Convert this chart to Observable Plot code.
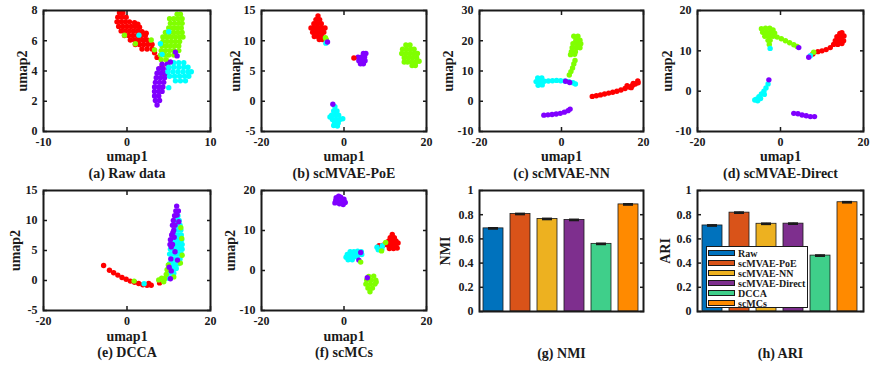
<!DOCTYPE html>
<html><head><meta charset="utf-8">
<script src="https://cdn.jsdelivr.net/npm/d3@7"></script>
<script src="https://cdn.jsdelivr.net/npm/@observablehq/plot@0.6"></script>
<style>
html,body{margin:0;padding:0;background:#fff;}
#root{position:relative;width:870px;height:368px;overflow:hidden;background:#fff;}
.cell{position:absolute;}
.cell svg{display:block;overflow:visible;max-width:none;}
#legend{position:absolute;left:706px;top:246px;width:102px;height:62px;box-sizing:border-box;border:1.5px solid #1a1a1a;background:#fff;padding:1px 0 0 1px;font-family:'Liberation Serif','Times New Roman',serif;font-weight:bold;font-size:10px;color:#1a1a1a;}
#legend .row{height:10px;display:flex;align-items:center;}
#legend .sw{width:27px;height:6px;border:1px solid #1a1a1a;margin-right:3px;box-sizing:border-box;}
</style></head>
<body><div id="root"></div>
<script>
// ---------- data ----------
// (a) Raw data
const rawRed = [[-0.9,7.85],[-0.5,7.85],[-1.1,7.55],[-0.6,7.55],[-0.1,7.55],[-1.2,7.25],[-0.7,7.25],[-0.2,7.25],[0.3,7.25],[0.9,7.2],[1.3,7.1],[-1.0,6.95],[-0.5,6.95],[0.0,6.95],[0.5,6.95],[1.0,6.95],[1.5,6.9],[-0.7,6.65],[-0.2,6.65],[0.3,6.65],[0.8,6.65],[1.3,6.65],[1.8,6.6],[2.3,6.5],[-0.3,6.35],[0.2,6.35],[0.7,6.35],[1.2,6.35],[1.7,6.35],[2.2,6.35],[0.4,6.05],[0.9,6.05],[1.4,6.05],[1.9,6.05],[2.4,6.05],[1.0,5.75],[1.5,5.75],[2.0,5.75],[2.5,5.75],[3.0,5.75],[1.8,5.45],[2.4,5.45],[3.0,5.45],[3.3,5.2],[3.6,4.9],[4.2,4.3],[4.5,3.8]];
const rawGreen = [[6.0,7.75],[6.4,7.75],[5.1,7.45],[5.6,7.45],[6.1,7.45],[6.6,7.45],[5.2,7.15],[5.7,7.15],[6.2,7.15],[6.6,7.15],[5.0,6.85],[5.5,6.85],[6.0,6.85],[6.5,6.85],[4.6,6.55],[5.1,6.55],[5.6,6.55],[6.1,6.55],[6.6,6.55],[4.3,6.25],[4.8,6.25],[5.3,6.25],[5.8,6.25],[6.3,6.25],[6.7,6.25],[4.3,5.95],[4.8,5.95],[5.3,5.95],[5.8,5.95],[6.3,5.95],[4.2,5.65],[4.7,5.65],[5.2,5.65],[5.7,5.65],[6.2,5.65],[4.1,5.35],[4.6,5.35],[5.1,5.35],[5.6,5.35],[6.2,5.35],[4.0,5.05],[4.5,5.05],[5.0,5.05],[5.6,5.05],[4.1,4.75],[4.7,4.75]];
const rawCyan = [[5.6,4.55],[6.2,4.55],[6.8,4.55],[5.0,4.25],[5.6,4.25],[6.2,4.25],[6.8,4.25],[7.3,4.25],[4.9,3.95],[5.5,3.95],[6.1,3.95],[6.7,3.95],[7.3,3.95],[7.7,3.95],[5.1,3.65],[5.7,3.65],[6.3,3.65],[6.9,3.65],[7.4,3.65],[5.8,3.35],[6.4,3.35],[7.0,3.35]];
const rawPurple = [[4.2,4.45],[4.8,4.45],[3.8,4.15],[4.3,4.15],[4.9,4.15],[3.6,3.85],[4.1,3.85],[4.6,3.85],[3.5,3.55],[4.0,3.55],[4.5,3.55],[3.4,3.25],[3.9,3.25],[4.4,3.25],[3.3,2.95],[3.8,2.95],[4.3,2.95],[3.3,2.65],[3.8,2.65],[4.2,2.65],[3.3,2.35],[3.8,2.35],[3.4,2.05],[3.9,2.05],[3.6,1.75]];
const rawGreenOut = [[-0.3,6.37],[1.0,5.8],[2.9,6.05],[3.3,5.4]];
const rawCyanOut = [[1.43,6.37],[4.0,5.8],[5.0,6.6],[5.0,2.9],[4.2,5.1]];
const rawPurpleOut = [[5.8,5.25],[5.2,4.6],[6.0,5.0]];

// (b) scMVAE-PoE
const poeRed = [[-6.3,14.1],[-6.8,13.5],[-5.9,13.5],[-7.3,12.8],[-6.4,12.8],[-5.5,12.8],[-8.0,12.1],[-7.1,12.1],[-6.2,12.1],[-5.3,12.1],[-4.6,12.1],[-7.6,11.4],[-6.7,11.4],[-5.8,11.4],[-4.9,11.4],[-7.2,10.7],[-6.3,10.7],[-5.4,10.7],[-6.0,10.2],[-5.2,10.2]];
const poeGreen = [[15.0,9.3],[16.0,9.3],[14.2,8.6],[15.2,8.6],[16.2,8.6],[17.0,8.6],[14.0,7.9],[15.0,7.9],[16.0,7.9],[17.0,7.9],[17.8,7.9],[14.6,7.2],[15.6,7.2],[16.6,7.2],[17.6,7.2],[14.6,6.5],[15.4,6.5],[16.4,6.5],[17.4,6.5],[18.2,6.6],[16.5,5.9],[17.3,5.9]];
const poePurple = [[4.7,7.9],[5.3,7.9],[3.4,7.3],[4.2,7.3],[5.0,7.3],[3.6,6.7],[4.4,6.7],[5.1,6.7],[4.0,6.2],[4.7,6.2]];
const poeCyan = [[-2.2,-0.9],[-2.5,-1.6],[-1.7,-1.6],[-3.0,-2.3],[-2.1,-2.3],[-1.3,-2.3],[-3.4,-2.6],[-2.8,-3.0],[-1.9,-3.0],[-1.0,-3.0],[-0.3,-2.9],[-2.3,-3.6],[-1.4,-3.6],[-2.5,-4.0],[-1.6,-4.1]];
const poeGreenOut = [[-4.5,10.5],[-4.3,10.2]];
const poeCyanOut = [[-4.4,9.6]];
const poePurpleOut = [[-4.0,9.8],[-2.7,-0.5]];
const poeRedOut = [[2.4,7.15]];

// (c) scMVAE-NN
const nnGreen = [[3.0,21.5],[4.0,21.5],[3.5,20.2],[4.5,20.2],[2.8,19.0],[3.8,19.0],[4.7,19.0],[2.6,17.7],[3.6,17.7],[4.5,17.7],[2.4,16.4],[3.4,16.4],[2.2,15.4],[3.2,15.5],[3.3,13.5],[3.0,12.3],[2.7,11.0],[2.3,9.8],[1.9,8.7]];
const nnCyan = [[-5.8,7.7],[-4.8,7.7],[-6.2,6.5],[-5.2,6.4],[-4.2,6.6],[-5.7,5.3],[-4.7,5.4],[-3.2,6.7],[-2.2,6.8],[-1.2,6.9],[-0.2,6.8],[0.8,6.7],[1.8,6.5],[2.8,6.1],[3.4,5.7]];
const nnPurpleOut = [[1.0,6.6],[2.0,6.2]];
const nnRed = [[7.5,1.6],[8.5,1.8],[9.5,2.1],[10.5,2.4],[11.5,2.7],[12.5,3.0],[13.5,3.3],[14.5,3.7],[15.5,4.2],[16.5,4.7],[17.3,5.2],[18.0,5.7],[18.7,6.1],[16.0,5.1],[17.5,5.9],[18.6,6.7],[17.0,4.5]];
const nnPurple = [[-4.3,-4.6],[-3.3,-4.5],[-2.3,-4.4],[-1.3,-4.2],[-0.3,-4.0],[0.7,-3.6],[1.6,-3.1],[2.1,-2.6]];

// (d) scMVAE-Direct
const dirGreen = [[-4.6,15.5],[-3.6,15.6],[-2.6,15.6],[-1.8,15.2],[-4.3,14.6],[-3.3,14.6],[-2.3,14.6],[-1.4,14.4],[-3.8,13.6],[-2.8,13.6],[-1.8,13.6],[-0.8,13.4],[-3.0,12.6],[-2.5,12.6],[-2.7,11.6],[0.2,13.0],[1.2,12.5],[2.2,12.0],[3.2,11.5],[4.0,11.1]];
const dirRed = [[7.8,9.2],[9.0,9.8],[10.0,10.0],[11.0,10.3],[12.0,10.8],[12.8,11.6],[13.2,12.5],[14.2,12.5],[15.2,12.5],[13.6,13.5],[14.6,13.5],[15.3,13.7],[14.3,14.3],[14.8,14.5],[13.8,11.6],[14.8,11.8]];
const dirCyan = [[-3.0,1.8],[-3.5,0.8],[-4.0,0.0],[-4.6,-0.7],[-5.2,-1.4],[-5.8,-2.0],[-4.8,-1.8],[-3.9,-0.8],[-6.2,-2.2],[-5.5,-2.4]];
const dirPurple = [[3.2,-5.5],[4.2,-5.6],[5.2,-5.9],[6.2,-6.1],[7.2,-6.3],[8.2,-6.3]];
const dirGreenOut = [[8.0,9.65]];
const dirCyanOut = [[-2.5,10.6],[7.2,8.8]];
const dirPurpleOut = [[4.4,10.8],[6.8,8.4],[-2.8,2.8]];

// (e) DCCA
const dccaRed = [[-5.6,2.5],[-4.2,1.7],[-3.2,1.3],[-2.2,0.9],[-1.2,0.5],[-0.2,0.2],[0.8,-0.1],[1.8,-0.3],[2.8,-0.5],[3.8,-0.7],[4.8,-0.8],[5.8,-0.8],[5.2,-0.5],[7.8,-0.4]];
const dccaCyan = [[12.2,10.8],[12.5,10.0],[11.8,10.0],[12.7,9.2],[12.0,9.2],[12.9,8.4],[12.2,8.4],[11.5,8.4],[13.0,7.6],[12.3,7.6],[11.6,7.6],[13.1,6.8],[12.4,6.8],[11.7,6.8],[11.0,6.8],[13.2,6.0],[12.5,6.0],[11.8,6.0],[11.1,6.0],[13.2,5.2],[12.5,5.2],[11.8,5.2],[11.1,5.2],[10.4,5.2],[13.0,4.4],[12.3,4.4],[11.6,4.4],[10.9,4.4],[10.2,4.4],[12.7,3.6],[12.0,3.6],[11.3,3.6],[10.6,3.6],[12.3,2.8],[11.6,2.8],[10.9,2.8],[10.2,2.8],[11.8,2.0],[11.1,2.0],[10.4,2.0],[11.2,1.2],[10.5,1.2],[9.8,1.2],[10.4,0.4],[9.7,0.4]];
const dccaGreen = [[7.6,0.1],[8.3,0.4],[9.0,0.3],[8.8,-0.2],[9.4,1.0],[9.6,1.8],[9.9,2.6],[12.8,2.9],[13.2,4.2],[13.1,7.0],[12.9,8.8],[11.2,0.6]];
const dccaPurple = [[11.9,12.4],[11.7,11.6],[12.3,11.6],[11.4,10.8],[12.0,10.9],[11.1,10.0],[11.5,9.2],[10.9,9.2],[11.2,8.4],[10.7,7.6],[11.3,7.2],[10.4,6.8],[10.9,6.0],[10.3,6.0],[10.6,5.6],[11.5,4.8],[10.5,3.6],[10.1,2.2],[10.6,1.6],[10.4,0.3],[12.1,3.4],[12.4,9.8],[11.0,8.0]];
const dccaGreenOut = [[1.7,-0.1]];
const dccaCyanOut = [[4.1,-0.55]];

// (f) scMCs
const mcsPurple = [[-1.9,18.2],[-0.8,18.3],[-1.5,17.3],[-0.4,17.3],[-1.1,16.7],[-2.0,17.5],[0.0,17.8],[-2.2,16.9],[0.3,17.0],[-1.3,18.6],[-0.2,16.5]];
const mcsRed = [[11.7,9.0],[11.2,8.2],[12.2,8.2],[10.8,7.3],[11.8,7.3],[12.6,7.4],[10.0,6.6],[10.6,6.4],[11.6,6.4],[12.6,6.4],[13.1,6.9],[11.0,5.5],[12.0,5.5],[12.9,5.6],[9.5,6.3],[8.5,6.2]];
const mcsCyan = [[8.3,5.2],[9.2,5.4],[9.3,6.2],[8.0,5.8],[1.5,4.7],[2.4,4.7],[3.3,4.8],[4.2,4.7],[0.8,4.0],[1.7,4.0],[2.6,4.0],[3.5,4.0],[4.3,4.0],[0.5,3.3],[1.4,3.3],[2.3,3.3],[3.2,3.4],[1.0,2.7],[2.0,2.7]];
const mcsGreen = [[6.0,-1.5],[7.2,-1.4],[5.5,-2.4],[6.6,-2.4],[7.7,-2.4],[5.3,-3.4],[6.4,-3.4],[7.5,-3.4],[5.8,-4.4],[6.9,-4.4],[6.3,-5.3],[7.8,-2.9]];
const mcsPurpleOut = [[4.05,4.5],[3.6,2.6],[5.65,-1.8]];
const mcsGreenOut = [[4.05,2.1],[10.1,7.0],[9.1,4.9]];

// (g)/(h) bars
const methods = ["Raw","scMVAE-PoE","scMVAE-NN","scMVAE-Direct","DCCA","scMCs"];
const barColors = ["#0072BD","#D95319","#EDB120","#7E2F8E","#3FCF8A","#FF8A00"];
const nmi = [0.687,0.806,0.765,0.757,0.559,0.885];
const nmiErr = [0.003,0.003,0.003,0.003,0.003,0.003];
const ari = [0.711,0.817,0.725,0.726,0.462,0.903];
const ariErr = [0.003,0.003,0.003,0.003,0.003,0.003];
const barTicks = [0,0.2,0.4,0.6,0.8,1];

// ---------- drawing ----------
const RED="#ff0000", GREEN="#80ff00", CYAN="#00ffff", PURPLE="#8000ff";
const FONT = "Liberation Serif, Times New Roman, serif";
const INK = "#1a1a1a";
const fmt = d => String(d);
const root = document.getElementById("root");

function frameAxes(xTicks, yTicks) {
  const common = {tickSize: -4, strokeWidth: 1.5, tickFormat: fmt, label: null, fontSize: 12, fontFamily: FONT, fontWeight: "bold"};
  const out = [
    Plot.axisY({...common, anchor: "left", ticks: yTicks, tickPadding: 10}),
    Plot.axisY({...common, anchor: "right", ticks: yTicks, fill: "none"})
  ];
  if (xTicks) out.push(
    Plot.axisX({...common, anchor: "bottom", ticks: xTicks, tickPadding: 10}),
    Plot.axisX({...common, anchor: "top", ticks: xTicks, fill: "none"})
  );
  out.push(Plot.frame({stroke: INK, strokeWidth: 2}));
  return out;
}

function labelMarks(xLabel, xDy, yLabel, yDx, caption, capDy) {
  const t = {text: d => d, fontFamily: FONT, fontWeight: "bold", fill: INK, fontSize: 14, textAnchor: "middle", lineAnchor: "middle"};
  const m = [];
  if (xLabel) m.push(Plot.text([xLabel], {...t, frameAnchor: "bottom", dy: xDy}));
  m.push(Plot.text([yLabel], {...t, frameAnchor: "left", dx: yDx, rotate: -90}));
  m.push(Plot.text([caption], {...t, frameAnchor: "bottom", dy: capDy, fontSize: 14}));
  return m;
}

function geom(g) {
  const left = g.fl - 43;
  return {left, top: g.rowTop, width: g.fr - left + 6, height: g.rowH,
    marginLeft: 43, marginRight: 6, marginTop: g.ft - g.rowTop, marginBottom: g.rowTop + g.rowH - g.fb};
}

function place(svg, left, top) {
  const div = document.createElement("div");
  div.className = "cell";
  div.style.left = left + "px";
  div.style.top = top + "px";
  div.appendChild(svg);
  root.appendChild(div);
}

const svgStyle = "font-family: 'Liberation Serif', 'Times New Roman', serif; font-weight: bold; font-size: 12px; color: #1a1a1a; background: transparent; overflow: visible;";

function scatterPanel(p) {
  const g = geom(p);
  const dots = p.layers.map(([pts, col]) => Plot.dot(pts, {x: d => d[0], y: d => d[1], r: 2.7, fill: col, stroke: "none"}));
  const svg = Plot.plot({
    width: g.width, height: g.height,
    marginLeft: g.marginLeft, marginRight: g.marginRight, marginTop: g.marginTop, marginBottom: g.marginBottom,
    style: svgStyle,
    x: {domain: p.xDomain}, y: {domain: p.yDomain},
    marks: [...dots, ...frameAxes(p.xTicks, p.yTicks), ...labelMarks("umap1", p.xDy, "umap2", p.yDx, p.caption, p.capDy)]
  });
  place(svg, g.left, g.top);
}

function barPanel(p) {
  const g = geom(p);
  const rows = methods.map((m, i) => ({m, v: p.values[i], e: p.errs[i]}));
  const svg = Plot.plot({
    width: g.width, height: g.height,
    marginLeft: g.marginLeft, marginRight: g.marginRight, marginTop: g.marginTop, marginBottom: g.marginBottom,
    style: svgStyle,
    x: {domain: methods, paddingInner: 0.25, paddingOuter: 0.1, axis: null},
    y: {domain: [0, 1]},
    color: {domain: methods, range: barColors},
    marks: [
      Plot.barY(rows, {x: "m", y: "v", fill: "m", stroke: INK, strokeWidth: 0.8}),
      Plot.ruleX(rows, {x: "m", y1: d => d.v - d.e, y2: d => d.v + d.e, stroke: INK, strokeWidth: 1.5}),
      Plot.tickY(rows, {x: "m", y: d => d.v + d.e, stroke: INK, strokeWidth: 2, insetLeft: 5, insetRight: 5}),
      Plot.tickY(rows, {x: "m", y: d => d.v - d.e, stroke: INK, strokeWidth: 2, insetLeft: 5, insetRight: 5}),
      ...frameAxes(null, barTicks),
      ...labelMarks(null, 0, p.yLabel, p.yDx, p.caption, p.capDy)
    ]
  });
  place(svg, g.left, g.top);
}

scatterPanel({fl: 43, fr: 210, ft: 10, fb: 131, rowTop: 0, rowH: 180, xDomain: [-10, 10], yDomain: [0, 8], xTicks: [-10, 0, 10], yTicks: [0, 2, 4, 6, 8],
  layers: [[rawRed, RED], [rawGreen, GREEN], [rawPurple, PURPLE], [rawCyan, CYAN], [rawGreenOut, GREEN], [rawCyanOut, CYAN], [rawPurpleOut, PURPLE]],
  xDy: 25, yDx: -21, caption: "(a) Raw data", capDy: 42});
scatterPanel({fl: 261, fr: 426, ft: 10, fb: 131, rowTop: 0, rowH: 180, xDomain: [-20, 20], yDomain: [-5, 15], xTicks: [-20, 0, 20], yTicks: [-5, 0, 5, 10, 15],
  layers: [[poeRed, RED], [poeGreen, GREEN], [poePurple, PURPLE], [poeCyan, CYAN], [poeGreenOut, GREEN], [poeCyanOut, CYAN], [poePurpleOut, PURPLE], [poeRedOut, RED]],
  xDy: 25, yDx: -26, caption: "(b) scMVAE-PoE", capDy: 42});
scatterPanel({fl: 479, fr: 643, ft: 10, fb: 131, rowTop: 0, rowH: 180, xDomain: [-20, 20], yDomain: [-10, 30], xTicks: [-20, 0, 20], yTicks: [-10, 0, 10, 20, 30],
  layers: [[nnGreen, GREEN], [nnCyan, CYAN], [nnRed, RED], [nnPurple, PURPLE], [nnPurpleOut, PURPLE]],
  xDy: 25, yDx: -31, caption: "(c) scMVAE-NN", capDy: 42});
scatterPanel({fl: 697, fr: 863, ft: 10, fb: 131, rowTop: 0, rowH: 180, xDomain: [-20, 20], yDomain: [-10, 20], xTicks: [-20, 0, 20], yTicks: [-10, 0, 10, 20],
  layers: [[dirGreen, GREEN], [dirRed, RED], [dirCyan, CYAN], [dirPurple, PURPLE], [dirGreenOut, GREEN], [dirCyanOut, CYAN], [dirPurpleOut, PURPLE]],
  xDy: 25, yDx: -30, caption: "(d) scMVAE-Direct", capDy: 42});
scatterPanel({fl: 43, fr: 210, ft: 190, fb: 310, rowTop: 180, rowH: 188, xDomain: [-20, 20], yDomain: [-5, 15], xTicks: [-20, 0, 20], yTicks: [-5, 0, 5, 10, 15],
  layers: [[dccaRed, RED], [dccaCyan, CYAN], [dccaGreen, GREEN], [dccaPurple, PURPLE], [dccaGreenOut, GREEN], [dccaCyanOut, CYAN]],
  xDy: 26, yDx: -28, caption: "(e) DCCA", capDy: 42});
scatterPanel({fl: 261, fr: 426, ft: 190, fb: 310, rowTop: 180, rowH: 188, xDomain: [-20, 20], yDomain: [-10, 20], xTicks: [-20, 0, 20], yTicks: [-10, 0, 10, 20],
  layers: [[mcsPurple, PURPLE], [mcsRed, RED], [mcsCyan, CYAN], [mcsGreen, GREEN], [mcsPurpleOut, PURPLE], [mcsGreenOut, GREEN]],
  xDy: 26, yDx: -31, caption: "(f) scMCs", capDy: 42});
barPanel({fl: 479, fr: 643, ft: 190, fb: 311, rowTop: 180, rowH: 188, values: nmi, errs: nmiErr, yLabel: "NMI", yDx: -34, caption: "(g) NMI", capDy: 42});
barPanel({fl: 697, fr: 863, ft: 190, fb: 311, rowTop: 180, rowH: 188, values: ari, errs: ariErr, yLabel: "ARI", yDx: -32, caption: "(h) ARI", capDy: 42});

// legend
const legend = document.createElement("div");
legend.id = "legend";
methods.forEach((m, i) => {
  const row = document.createElement("div");
  row.className = "row";
  const sw = document.createElement("span");
  sw.className = "sw";
  sw.style.background = barColors[i];
  const tx = document.createElement("span");
  tx.textContent = m;
  row.appendChild(sw); row.appendChild(tx);
  legend.appendChild(row);
});
root.appendChild(legend);
</script>
</body></html>
